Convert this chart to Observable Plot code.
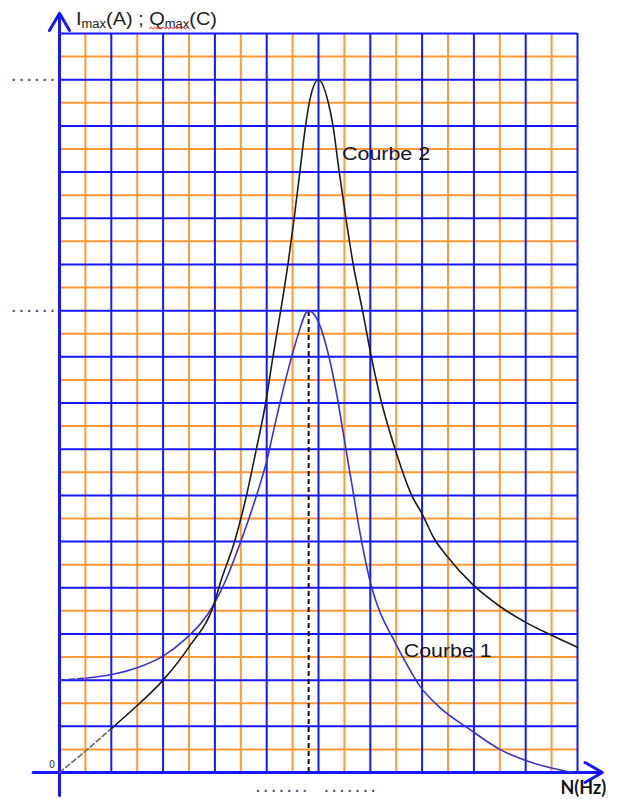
<!DOCTYPE html>
<html>
<head>
<meta charset="utf-8">
<script src="https://cdn.jsdelivr.net/npm/d3@7"></script>
<script src="https://cdn.jsdelivr.net/npm/@observablehq/plot@0.6"></script>
<style>
  html, body { margin: 0; padding: 0; background: #fff; }
  #chart svg { display: block; }
</style>
</head>
<body>
<div id="chart"></div>
<script>
// Units: one large square on each axis (N horizontally, amplitude vertically).

// Courbe 1 : Qmax(N) — charge amplitude, non-zero at N = 0
const courbe1N   = [0, 0.5, 1.0, 1.5, 2.0, 2.4, 2.98, 3.22, 3.5, 3.86, 3.99, 4.15, 4.38, 4.57, 4.81,
                    5.0, 5.18, 5.35, 5.5, 5.65, 5.8, 5.9, 6.0, 6.1, 6.2, 6.45, 6.7, 6.95, 7.35, 7.9,
                    8.5, 9.1, 9.9];
const courbe1Amp = [2.0, 2.04, 2.12, 2.27, 2.52, 2.86, 3.64, 4.19, 5.0, 6.2, 6.7, 7.49, 8.57, 9.35, 10.0,
                    9.75, 9.1, 8.2, 7.2, 6.2, 5.2, 4.62, 4.12, 3.74, 3.44, 2.88, 2.35, 1.88, 1.4, 0.95,
                    0.5, 0.22, 0.0];

// Courbe 2 : Imax(N) — current amplitude, zero at N = 0
const courbe2N   = [0, 0.5, 1.0, 1.5, 2.0, 2.5, 2.98, 3.12, 3.38, 3.61, 3.80, 3.98, 4.12, 4.27, 4.41,
                    4.53, 4.64, 4.75, 4.84, 5.0, 5.19, 5.28, 5.4, 5.53, 5.67, 5.85, 6.02, 6.22, 6.48,
                    6.8, 7.0, 7.24, 7.47, 7.97, 8.5, 9.0, 9.5, 10.0];
const courbe2Amp = [0, 0.46, 0.95, 1.45, 2.0, 2.72, 3.64, 4.16, 5.0, 6.0, 7.0, 8.0, 9.0, 10.0, 11.0,
                    12.0, 13.0, 14.0, 14.6, 15.0, 14.5, 14.0, 13.0, 12.0, 11.0, 10.0, 9.0, 8.0, 7.0,
                    6.0, 5.6, 5.05, 4.7, 4.08, 3.6, 3.25, 2.97, 2.71];

// Leading points drawn dashed (extrapolation towards N = 0)
const dashedPoints1 = 2;
const dashedPoints2 = 3;

// Grid (orange = small squares, blue = large squares)
const majorX = d3.range(0, 11, 1);
const minorX = d3.range(0.5, 10, 1);
const majorY = d3.range(0, 17, 1);
const minorY = d3.range(0.5, 16, 1);

// Axis arrows (extend slightly beyond the grid)
const axisArrows = [
  {x1: -0.51, y1: 0, x2: 10.48, y2: 0},
  {x1: 0, y1: -0.5, x2: 0, y2: 16.44}
];

// Placeholder tick labels to be filled in
const tickDots6 = ". . . . . .";
const tickDots7 = ". . . . . . .";

const c1 = courbe1N.map((n, i) => ({n, a: courbe1Amp[i]}));
const c2 = courbe2N.map((n, i) => ({n, a: courbe2Amp[i]}));

const peak1 = c1.reduce((m, d) => (d.a > m.a ? d : m));
const peak2 = c2.reduce((m, d) => (d.a > m.a ? d : m));

const gridBlue = "#1616ff";
const gridOrange = "#ff9933";
const curveBlue = "#3434d4";
const curveBlack = "#1c1c1c";
const dotColor = "#5a4a6e";
const font = "Liberation Sans, Arial, sans-serif";

const plot = Plot.plot({
  width: 618,
  height: 799,
  marginLeft: 59,
  marginRight: 41,
  marginTop: 33,
  marginBottom: 27,
  x: {domain: [0, 10], axis: null},
  y: {domain: [0, 16], axis: null},
  style: {background: "#fff", overflow: "visible", fontFamily: font},
  marks: [
    // small squares
    Plot.ruleX(minorX, {x: d => d, y1: 0, y2: 16, stroke: gridOrange, strokeWidth: 2}),
    Plot.ruleY(minorY, {y: d => d, x1: 0, x2: 10, stroke: gridOrange, strokeWidth: 2}),
    // large squares
    Plot.ruleX(majorX, {x: d => d, y1: 0, y2: 16, stroke: gridBlue, strokeWidth: 2}),
    Plot.ruleY(majorY, {y: d => d, x1: 0, x2: 10, stroke: gridBlue, strokeWidth: 2}),
    // axes
    Plot.arrow(axisArrows, {x1: "x1", y1: "y1", x2: "x2", y2: "y2",
      stroke: gridBlue, strokeWidth: 3, headLength: 10, headAngle: 60}),

    // dashed vertical at the charge resonance
    Plot.ruleX([peak1], {x: "n", y1: 0, y2: "a", stroke: "#111", strokeWidth: 2, strokeDasharray: "5,3"}),

    // Courbe 1
    Plot.line(c1.slice(0, dashedPoints1), {x: "n", y: "a", stroke: curveBlue, strokeWidth: 1.6,
      strokeDasharray: "6,3"}),
    Plot.line(c1.slice(dashedPoints1 - 1), {x: "n", y: "a", stroke: curveBlue, strokeWidth: 1.6,
      curve: "monotone-x"}),

    // Courbe 2
    Plot.line(c2.slice(0, dashedPoints2), {x: "n", y: "a", stroke: "#666", strokeWidth: 1.6,
      strokeDasharray: "5,3"}),
    Plot.line(c2.slice(dashedPoints2 - 1), {x: "n", y: "a", stroke: curveBlack, strokeWidth: 1.6,
      curve: "monotone-x"}),

    // curve labels
    Plot.text(["Courbe 2"], {x: 5.455, y: 13.39, text: d => d, textAnchor: "start",
      fontSize: 18, fill: "#141428"}),
    Plot.text(["Courbe 1"], {x: 6.645, y: 2.63, text: d => d, textAnchor: "start",
      fontSize: 18, fill: "#141428"}),

    // placeholder tick labels
    Plot.text([peak2, peak1], {x: 0, y: "a", text: () => tickDots6, textAnchor: "end",
      dx: -5, dy: -3.5, fontSize: 14, fontWeight: "bold", fill: dotColor}),
    Plot.text([peak1], {x: "n", y: 0, text: () => tickDots7, textAnchor: "end",
      dx: -2, dy: 15, fontSize: 14, fontWeight: "bold", fill: dotColor}),
    Plot.text([peak2], {x: "n", y: 0, text: () => tickDots7, textAnchor: "start",
      dx: 6, dy: 15, fontSize: 14, fontWeight: "bold", fill: dotColor}),

    // origin and N axis title
    Plot.text(["0"], {x: 0, y: 0, text: d => d, dx: -7.5, dy: -7.5, fontSize: 10, fill: "#333"}),
    Plot.text(["N(Hz)"], {x: 10, y: 0, text: d => d, textAnchor: "start", dx: -17, dy: 16,
      fontSize: 18, fontWeight: "bold", fontFamily: "Lato, Liberation Sans, sans-serif", fill: "#111"})
  ]
});

document.getElementById("chart").append(plot);
const svg = d3.select(plot);

// widen the curve labels
svg.selectAll("text")
  .filter(function () { return this.textContent.startsWith("Courbe"); })
  .attr("textLength", 88)
  .attr("lengthAdjust", "spacingAndGlyphs");

// vertical axis title with subscripts
const title = svg.append("text")
  .attr("x", 59 + 17)
  .attr("y", 25)
  .attr("text-anchor", "start")
  .attr("font-family", font)
  .attr("font-size", 18.5)
  .attr("fill", "#222");
title.append("tspan").text("I");
title.append("tspan").attr("font-size", 12).attr("dy", 3).text("max");
title.append("tspan").attr("dy", -3).text("(A) ; Q");
title.append("tspan").attr("font-size", 12).attr("dy", 3).text("max");
title.append("tspan").attr("dy", -3).text("(C)");
title.attr("textLength", 141).attr("lengthAdjust", "spacingAndGlyphs");

// red spell-check squiggle under "Qmax"
const tn = title.node();
const qStart = tn.getStartPositionOfChar(10).x;
const qEnd = tn.getEndPositionOfChar(13).x;
const squiggle = d3.range(qStart, qEnd + 0.1, 2).map((x, i) => [x, 28 + (i % 2 ? -1.1 : 1.1)]);
svg.append("path")
  .attr("d", d3.line()(squiggle))
  .attr("fill", "none")
  .attr("stroke", "#e03030")
  .attr("stroke-width", 1);
</script>
</body>
</html>
